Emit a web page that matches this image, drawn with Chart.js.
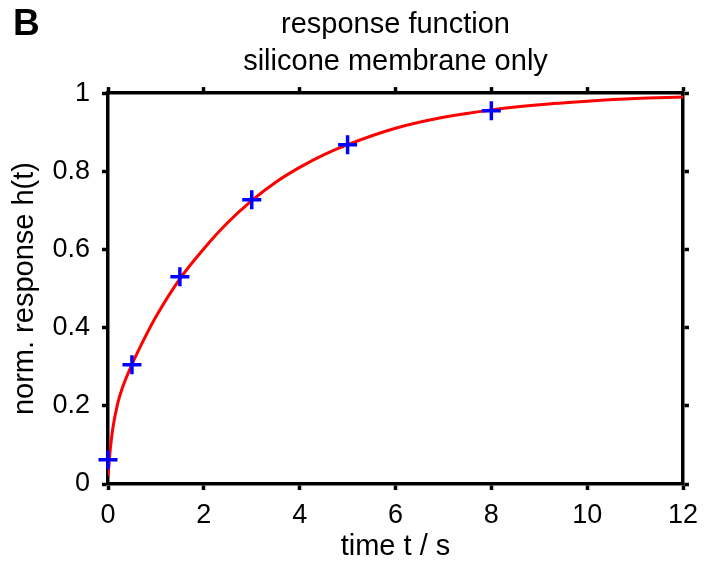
<!DOCTYPE html>
<html>
<head>
<meta charset="utf-8">
<script src="https://cdn.jsdelivr.net/npm/chart.js@4.4.0/dist/chart.umd.min.js"></script>
<style>
    html, body { margin: 0; padding: 0; background: #fff; }
</style>
</head>
<body>
<canvas id="responseChart" width="721" height="565"></canvas>
<script>
// fitted response curve (red line)
const curveTime = [0, 0.05, 0.1, 0.2, 0.3, 0.5, 0.75, 1, 1.5, 2, 2.5, 3, 3.5, 4, 4.5, 5, 6, 7, 8, 9, 10, 11, 12];
const curveResponse = [0.02, 0.092, 0.142, 0.205, 0.246, 0.306, 0.37, 0.428, 0.525, 0.602, 0.669, 0.725, 0.772, 0.81, 0.842, 0.868, 0.91, 0.938, 0.957, 0.97, 0.979, 0.986, 0.99];

// measured points (blue crosses)
const measTime = [0, 0.5, 1.5, 3, 5, 8];
const measResponse = [0.062, 0.305, 0.53, 0.727, 0.868, 0.955];

const xRange = [0, 12];
const yRange = [0, 1];
const xStep = 2;
const yStep = 0.2;

const FONT = "'Liberation Sans', Arial, sans-serif";

function toPoints(xs, ys) {
    return xs.map(function (x, i) { return { x: x, y: ys[i] }; });
}

function axis(position, min, max, step, showLabels, size, labelPad) {
    return {
        type: 'linear',
        position: position,
        min: min,
        max: max,
        ticks: {
            display: showLabels,
            stepSize: step,
            color: '#000',
            font: { family: FONT, size: 27 },
            padding: labelPad || 0,
            callback: function (v) { return String(Math.round(v * 10) / 10); }
        },
        grid: {
            drawOnChartArea: false,
            drawTicks: true,
            tickLength: 6,
            tickWidth: 3.5,
            color: '#000'
        },
        border: { display: true, width: 3.5, color: '#000' },
        afterFit: function (scale) {
            if (scale.isHorizontal()) scale.height = size; else scale.width = size;
        }
    };
}

const panelLetter = {
    id: 'panelLetter',
    afterDraw: function (chart) {
        const ctx = chart.ctx;
        ctx.save();
        ctx.fillStyle = '#000';
        ctx.font = 'bold 37px ' + FONT;
        ctx.textBaseline = 'alphabetic';
        ctx.fillText('B', 13, 35);
        ctx.restore();
    }
};

const scaleX = axis('bottom', xRange[0], xRange[1], xStep, true, 81, 9);
scaleX.title = { display: true, text: 'time t / s', color: '#000', font: { family: FONT, size: 29 }, padding: { top: 0, bottom: 1 } };
const scaleY = axis('left', yRange[0], yRange[1], yStep, true, 108, 12);
scaleY.title = { display: true, text: 'norm. response h(t)', color: '#000', font: { family: FONT, size: 29 }, padding: { top: 8, bottom: 0 } };

new Chart(document.getElementById('responseChart'), {
    type: 'scatter',
    data: {
        datasets: [
            {
                data: toPoints(curveTime, curveResponse),
                showLine: true,
                borderColor: '#ff0000',
                borderWidth: 3,
                pointRadius: 0,
                cubicInterpolationMode: 'monotone',
                order: 2
            },
            {
                data: toPoints(measTime, measResponse),
                showLine: false,
                clip: false,
                pointStyle: 'cross',
                pointRadius: 9.5,
                borderColor: '#0000ff',
                backgroundColor: '#0000ff',
                pointBorderWidth: 3.5,
                order: 1
            }
        ]
    },
    options: {
        responsive: false,
        animation: false,
        layout: { padding: 0 },
        plugins: {
            legend: { display: false },
            tooltip: { enabled: false },
            title: {
                display: true,
                fullSize: false,
                text: ['response function', 'silicone membrane only'],
                color: '#000',
                font: { family: FONT, size: 29, weight: 'normal', lineHeight: 1.26 },
                padding: { top: 7, bottom: 0 }
            }
        },
        scales: {
            x: scaleX,
            x2: axis('top', xRange[0], xRange[1], xStep, false, 13),
            y: scaleY,
            y2: axis('right', yRange[0], yRange[1], yStep, false, 38)
        }
    },
    plugins: [panelLetter]
});
</script>
</body>
</html>
